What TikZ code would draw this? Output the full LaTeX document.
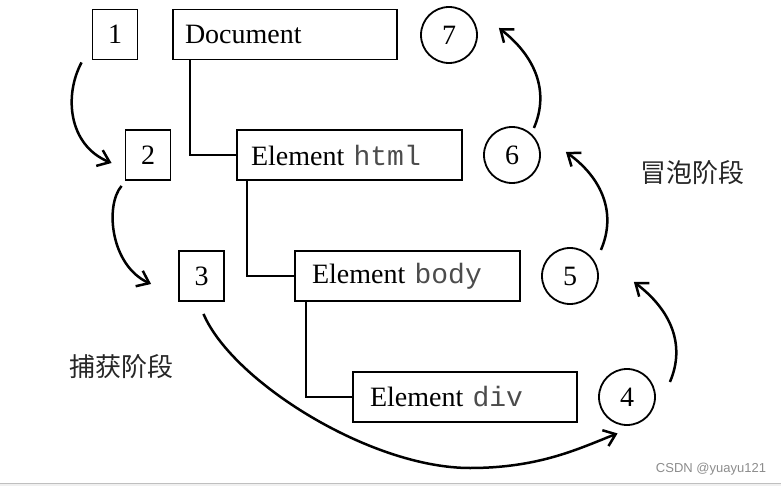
\documentclass[tikz,border=0pt]{standalone}
\usepackage{fontspec}
\setmainfont{Liberation Serif}
\setmonofont{Liberation Mono}
\newfontfamily\cjk{Noto Sans CJK SC}
\newfontfamily\wmfont{Liberation Sans}
\usetikzlibrary{arrows.meta,calc}
\begin{document}
\begin{tikzpicture}[x=1pt,y=-1pt,
  numbox/.style={draw,line width=1.9pt,minimum width=45,minimum height=50,inner sep=0pt,font=\fontsize{28}{30}\selectfont},
  elbox/.style={draw,line width=1.8pt,minimum height=50,inner ysep=0pt,align=left,font=\fontsize{28}{30}\selectfont},
  numcirc/.style={draw,circle,line width=1.8pt,minimum size=56,inner sep=0pt,font=\fontsize{28}{30}\selectfont},
  tree/.style={line width=2.6pt},
  flow/.style={line width=2.5pt,-{Straight Barb[length=11pt,width=17pt,line width=2.5pt]}},
  phase/.style={font=\cjk\fontsize{26}{30}\selectfont,text=black!85},
  code/.style={text=black!70}
]
\useasboundingbox (0,0) rectangle (781,486);
\fill[black!6] (0,483) rectangle (781,486);
\draw[black!25,line width=1pt] (0,483) -- (781,483);

% number boxes
\node[numbox] (b1) at (115,34.5) {1};
\node[numbox] (b2) at (148,155) {2};
\node[numbox] (b3) at (201.5,276) {3};

% element boxes
\node[elbox,minimum width=224,text width=200,inner xsep=12] (doc) at (285,34.5) {Document};
\node[elbox,minimum width=225,text width=197,inner xsep=14] (html) at (349.5,155) {Element \texttt{\textcolor{black!70}{html}}};
\node[elbox,minimum width=225,text width=191,inner xsep=17] (body) at (407.5,276) {Element \texttt{\textcolor{black!70}{body}}};
\node[elbox,minimum width=224,text width=190,inner xsep=17] (div) at (465,397) {Element \texttt{\textcolor{black!70}{div}}};

% circles
\node[numcirc] (c7) at (449,35) {7};
\node[numcirc] (c6) at (512,155) {6};
\node[numcirc] (c5) at (570,276) {5};
\node[numcirc] (c4) at (627,397) {4};

% tree connectors
\draw[tree] ($(doc.south west)+(18,0)$) |- (html.west);
\draw[tree] ($(html.south west)+(11,0)$) |- (body.west);
\draw[tree] ($(body.south west)+(12,0)$) |- (div.west);

% labels
\node[phase] (cap) at (121,367) {捕获阶段};
\node[phase] (bub) at (692,173) {冒泡阶段};
\node[font=\wmfont\fontsize{13}{15}\selectfont,text=black!45] (wm) at (711,469) {CSDN @yuayu121};

% capture arrows
\coordinate (a1s) at ($(b1.south west)+(-10,2)$);
\coordinate (a1e) at ($(b2.west)+(-13,8)$);
\draw[flow] (a1s) .. controls (64,95) and (68,145) .. (a1e);
\coordinate (a2s) at ($(b2.south west)+(-3,5)$);
\coordinate (a2e) at ($(b3.west)+(-27,8)$);
\draw[flow] (a2s) .. controls (105,205) and (110,265) .. (a2e);
\coordinate (a3s) at ($(b3.south)+(2,12)$);
\coordinate (a3m) at (470,468);
\coordinate (a3e) at ($(c4.south west)+(11,16)$);
\draw[flow] (a3s) .. controls (232,381) and (370,468) .. (a3m)
  .. controls (540,468) and (580,448) .. (a3e);

% bubbling arrows
\coordinate (a4s) at ($(c4.east)+(14,-15)$);
\coordinate (a4e) at ($(c5.east)+(35,6)$);
\draw[flow] (a4s) .. controls ($(a4s)+(16,-37)$) and ($(a4s)+(1,-72)$) .. (a4e);
\coordinate (a5s) at ($(c5.east)+(2,-26)$);
\coordinate (a5e) at ($(c6.east)+(25,-3)$);
\draw[flow] (a5s) .. controls ($(a5s)+(16,-37)$) and ($(a5s)+(1,-72)$) .. (a5e);
\coordinate (a6s) at ($(c6.east)+(-7,-27)$);
\coordinate (a6e) at ($(c7.east)+(21,-7)$);
\draw[flow] (a6s) .. controls ($(a6s)+(16,-37)$) and ($(a6s)+(1,-72)$) .. (a6e);
\end{tikzpicture}
\end{document}
